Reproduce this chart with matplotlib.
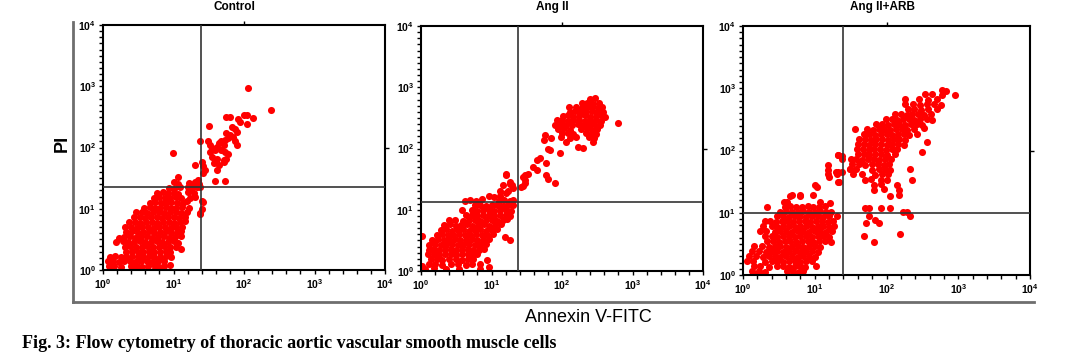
import numpy as np
import matplotlib
matplotlib.use("Agg")
import matplotlib.pyplot as plt
from matplotlib.lines import Line2D
from matplotlib.ticker import FixedLocator, NullLocator, NullFormatter, FuncFormatter

plt.rcParams['font.family'] = ['Liberation Sans', 'DejaVu Sans']
plt.rcParams['mathtext.fontset'] = 'custom'
plt.rcParams['mathtext.rm'] = 'Liberation Sans'
plt.rcParams['mathtext.bf'] = 'Liberation Sans:bold'

# events, as (log10 Annexin V-FITC, log10 PI)
control_events = [
    # lower-left (live) population
    (1.00, 1.43), (1.07, 1.40), (1.22, 1.42), (1.30, 1.44), (1.36, 1.40),
    (0.93, 1.34), (1.01, 1.33), (1.09, 1.35), (1.25, 1.33), (1.33, 1.35),
    (0.77, 1.26), (0.85, 1.27), (0.92, 1.25), (1.00, 1.26), (1.07, 1.24), (1.20, 1.27), (1.29, 1.25),
    (0.72, 1.18), (0.80, 1.19), (0.88, 1.17), (0.95, 1.18), (1.03, 1.19), (1.10, 1.17), (1.24, 1.18), (1.31, 1.20),
    (0.66, 1.10), (0.74, 1.11), (0.82, 1.09), (0.90, 1.10), (0.97, 1.11), (1.05, 1.09), (1.13, 1.10), (1.19, 1.12), (1.40, 1.12),
    (0.58, 1.02), (0.66, 1.03), (0.74, 1.01), (0.81, 1.02), (0.89, 1.03), (0.96, 1.01), (1.04, 1.02), (1.12, 1.03), (1.22, 1.01), (1.41, 1.00),
    (0.47, 0.94), (0.55, 0.95), (0.63, 0.93), (0.71, 0.94), (0.79, 0.95), (0.87, 0.93), (0.95, 0.94), (1.03, 0.95), (1.11, 0.93), (1.19, 0.94), (1.38, 0.92),
    (0.44, 0.86), (0.52, 0.87), (0.60, 0.85), (0.68, 0.86), (0.76, 0.87), (0.84, 0.85), (0.92, 0.86), (1.00, 0.87), (1.08, 0.85), (1.17, 0.86),
    (0.37, 0.78), (0.45, 0.79), (0.53, 0.77), (0.61, 0.78), (0.69, 0.79), (0.77, 0.77), (0.85, 0.78), (0.93, 0.79), (1.01, 0.77), (1.09, 0.78), (1.16, 0.80),
    (0.31, 0.71), (0.40, 0.70), (0.48, 0.69), (0.56, 0.70), (0.64, 0.71), (0.72, 0.69), (0.80, 0.70), (0.88, 0.71), (0.96, 0.69), (1.04, 0.70), (1.12, 0.71),
    (0.33, 0.62), (0.41, 0.63), (0.49, 0.61), (0.57, 0.62), (0.65, 0.63), (0.73, 0.61), (0.81, 0.62), (0.89, 0.63), (0.97, 0.61), (1.05, 0.62), (1.11, 0.64),
    (0.22, 0.53), (0.30, 0.54), (0.38, 0.55), (0.46, 0.53), (0.54, 0.54), (0.62, 0.55), (0.70, 0.53), (0.78, 0.54), (0.86, 0.55), (0.94, 0.53), (1.02, 0.54), (1.10, 0.56),
    (0.18, 0.46), (0.28, 0.47), (0.36, 0.45), (0.44, 0.46), (0.52, 0.47), (0.60, 0.45), (0.68, 0.46), (0.76, 0.47), (0.84, 0.45), (0.92, 0.46), (1.00, 0.47), (1.06, 0.44),
    (0.31, 0.38), (0.39, 0.39), (0.47, 0.37), (0.55, 0.38), (0.63, 0.39), (0.71, 0.37), (0.79, 0.38), (0.87, 0.39), (0.95, 0.37), (1.03, 0.38), (1.10, 0.35),
    (0.33, 0.30), (0.41, 0.31), (0.49, 0.29), (0.57, 0.30), (0.65, 0.31), (0.73, 0.29), (0.81, 0.30), (0.89, 0.31), (0.95, 0.29),
    (0.10, 0.22), (0.17, 0.23), (0.25, 0.21), (0.33, 0.22), (0.41, 0.23), (0.49, 0.21), (0.57, 0.22), (0.65, 0.23), (0.73, 0.21), (0.81, 0.22), (0.89, 0.23), (0.96, 0.21),
    (0.07, 0.14), (0.14, 0.15), (0.22, 0.13), (0.30, 0.14), (0.38, 0.15), (0.46, 0.13), (0.54, 0.14), (0.62, 0.15), (0.70, 0.13), (0.78, 0.14), (0.86, 0.15),
    (0.08, 0.06), (0.16, 0.07), (0.26, 0.05), (0.40, 0.06), (0.48, 0.07), (0.56, 0.05), (0.64, 0.06), (0.74, 0.07), (0.80, 0.05), (0.86, 0.06), (0.95, 0.08),
    (0.42, 0.02), (0.50, 0.01), (0.74, 0.02), (0.79, 0.01),
    # upper-right tail
    (2.05, 2.97), (2.38, 2.62), (1.74, 2.49), (1.80, 2.49), (2.00, 2.53), (2.04, 2.53), (2.13, 2.48),
    (1.92, 2.46), (1.94, 2.41), (2.04, 2.38), (1.50, 2.35), (1.83, 2.34), (1.87, 2.30), (1.90, 2.26),
    (1.75, 2.23), (1.80, 2.20), (1.85, 2.17), (1.78, 2.15), (1.73, 2.12), (1.68, 2.10), (1.87, 2.10),
    (1.90, 2.04), (1.64, 2.07), (1.71, 2.04), (1.61, 2.01), (1.52, 2.04), (1.38, 2.10), (1.49, 2.11),
    (1.54, 1.99), (1.59, 1.96), (1.68, 1.96), (1.73, 1.93), (1.78, 1.90), (1.75, 1.82), (1.71, 1.80),
    (1.61, 1.82), (1.54, 1.85), (1.52, 1.93), (1.57, 1.74), (1.64, 1.71), (1.61, 1.64), (1.71, 1.77),
    (1.40, 1.77), (1.30, 1.71), (1.42, 1.70), (1.45, 1.63), (1.73, 1.46), (1.59, 1.45), (1.35, 1.47),
    (1.31, 1.42), (1.38, 1.36), (1.21, 1.36), (1.26, 1.37), (1.42, 1.58), (0.99, 1.91), (1.07, 1.52),
    (1.42, 1.11), (1.38, 0.93),
]

ang2_events = [
    # lower-left population
    (1.21, 1.57), (1.17, 1.40), (1.26, 1.42), (1.42, 1.37), (1.12, 1.30), (1.20, 1.28),
    (0.96, 1.22), (1.04, 1.21), (1.12, 1.23),
    (0.62, 1.15), (0.70, 1.16), (0.78, 1.15), (0.86, 1.17), (1.10, 1.15), (1.18, 1.16), (1.26, 1.14), (1.31, 1.16),
    (0.76, 1.07), (0.84, 1.08), (0.92, 1.06), (1.00, 1.07), (1.08, 1.08), (1.16, 1.06), (1.24, 1.07), (1.31, 1.08),
    (0.58, 0.99), (0.72, 1.00), (0.80, 0.98), (0.88, 0.99), (0.96, 1.00), (1.04, 0.98), (1.12, 0.99), (1.20, 1.00), (1.28, 0.98),
    (0.64, 0.91), (0.72, 0.92), (0.80, 0.90), (0.88, 0.91), (0.96, 0.92), (1.04, 0.90), (1.12, 0.91), (1.20, 0.92), (1.26, 0.90),
    (0.40, 0.83), (0.48, 0.84), (0.60, 0.82), (0.68, 0.83), (0.76, 0.84), (0.84, 0.82), (0.92, 0.83), (1.00, 0.84), (1.08, 0.82), (1.16, 0.83), (1.22, 0.85),
    (0.33, 0.75), (0.41, 0.76), (0.49, 0.74), (0.57, 0.75), (0.65, 0.76), (0.73, 0.74), (0.81, 0.75), (0.89, 0.76), (0.97, 0.74), (1.05, 0.75), (1.13, 0.76),
    (0.28, 0.67), (0.36, 0.68), (0.44, 0.66), (0.52, 0.67), (0.60, 0.68), (0.68, 0.66), (0.76, 0.67), (0.84, 0.68), (0.92, 0.66), (1.00, 0.67), (1.08, 0.68),
    (0.22, 0.59), (0.30, 0.60), (0.38, 0.58), (0.46, 0.59), (0.54, 0.60), (0.62, 0.58), (0.70, 0.59), (0.78, 0.60), (0.86, 0.58), (0.94, 0.59), (1.02, 0.60), (1.19, 0.56),
    (0.16, 0.51), (0.24, 0.52), (0.32, 0.50), (0.40, 0.51), (0.48, 0.52), (0.56, 0.50), (0.64, 0.51), (0.72, 0.52), (0.80, 0.50), (0.88, 0.51), (0.96, 0.52), (1.26, 0.51),
    (0.12, 0.43), (0.20, 0.44), (0.28, 0.42), (0.36, 0.43), (0.44, 0.44), (0.52, 0.42), (0.60, 0.43), (0.68, 0.44), (0.76, 0.42), (0.84, 0.43), (0.92, 0.44),
    (0.12, 0.35), (0.18, 0.36), (0.26, 0.34), (0.34, 0.35), (0.42, 0.36), (0.50, 0.34), (0.58, 0.35), (0.66, 0.36), (0.74, 0.34), (0.82, 0.35), (0.90, 0.36),
    (0.10, 0.27), (0.18, 0.28), (0.26, 0.26), (0.34, 0.27), (0.42, 0.28), (0.50, 0.26), (0.58, 0.27), (0.66, 0.28), (0.74, 0.26), (0.80, 0.27),
    (0.14, 0.19), (0.22, 0.20), (0.30, 0.18), (0.40, 0.19), (0.50, 0.20), (0.58, 0.18), (0.66, 0.19), (0.74, 0.20), (0.93, 0.18),
    (0.12, 0.11), (0.20, 0.12), (0.30, 0.10), (0.42, 0.11), (0.52, 0.12), (0.64, 0.10), (0.72, 0.11), (0.84, 0.12), (0.97, 0.07),
    (0.05, 0.04), (0.18, 0.05), (0.36, 0.03), (0.54, 0.04), (0.83, 0.03), (0.01, 0.57), (0.01, 0.08),
    # diagonal bridge
    (1.76, 2.22), (1.74, 2.14), (1.85, 2.17), (1.80, 2.00), (1.83, 1.98), (1.97, 1.92), (1.69, 1.84),
    (1.64, 1.81), (1.59, 1.70), (1.64, 1.65), (1.78, 1.76), (1.78, 1.57), (1.80, 1.51), (1.90, 1.43),
    (1.52, 1.59), (1.47, 1.57), (1.45, 1.54), (1.47, 1.49), (1.47, 1.43), (1.45, 1.38), (1.21, 1.59),
    (1.26, 1.46), (1.29, 1.40), (1.31, 1.35), (1.24, 1.30),
    # upper-right population
    (2.40, 2.81), (2.47, 2.83),
    (2.28, 2.74), (2.36, 2.75), (2.44, 2.73), (2.52, 2.74),
    (2.10, 2.67), (2.20, 2.68), (2.28, 2.66), (2.35, 2.67), (2.43, 2.68), (2.51, 2.66), (2.57, 2.67),
    (2.11, 2.60), (2.19, 2.61), (2.26, 2.59), (2.34, 2.60), (2.42, 2.61), (2.50, 2.59), (2.58, 2.60),
    (2.01, 2.53), (2.08, 2.54), (2.16, 2.52), (2.24, 2.53), (2.32, 2.54), (2.40, 2.52), (2.48, 2.53), (2.56, 2.54), (2.61, 2.52),
    (1.93, 2.46), (2.00, 2.47), (2.08, 2.45), (2.16, 2.46), (2.24, 2.47), (2.32, 2.45), (2.40, 2.46), (2.48, 2.47), (2.56, 2.45),
    (1.90, 2.39), (1.98, 2.40), (2.06, 2.38), (2.14, 2.39), (2.22, 2.40), (2.30, 2.38), (2.38, 2.39), (2.46, 2.40), (2.54, 2.38), (2.80, 2.41),
    (1.95, 2.32), (2.03, 2.33), (2.11, 2.31), (2.27, 2.32), (2.35, 2.33), (2.43, 2.31), (2.50, 2.32),
    (2.00, 2.25), (2.08, 2.26), (2.16, 2.24), (2.34, 2.25), (2.42, 2.26), (2.48, 2.24),
    (1.98, 2.18), (2.12, 2.17), (2.20, 2.19), (2.38, 2.18), (2.46, 2.17),
    (2.06, 2.10), (2.44, 2.10), (2.23, 2.02), (2.30, 2.01),
]

ang2_arb_events = [
    # lower-left population
    (0.66, 1.27), (0.80, 1.27),
    (0.57, 1.17), (0.62, 1.18), (1.07, 1.18), (1.21, 1.16),
    (0.33, 1.10), (0.58, 1.10), (0.66, 1.11), (0.74, 1.09), (0.82, 1.10), (0.90, 1.11), (0.98, 1.09), (1.06, 1.10), (1.14, 1.11),
    (0.52, 1.02), (0.60, 1.03), (0.68, 1.01), (0.76, 1.02), (0.84, 1.03), (0.92, 1.01), (1.00, 1.02), (1.08, 1.03), (1.16, 1.01), (1.22, 1.02),
    (0.48, 0.94), (0.56, 0.95), (0.64, 0.93), (0.72, 0.94), (0.80, 0.95), (0.88, 0.93), (0.96, 0.94), (1.04, 0.95), (1.12, 0.93), (1.20, 0.94), (1.31, 0.94),
    (0.30, 0.86), (0.38, 0.87), (0.46, 0.85), (0.54, 0.86), (0.62, 0.87), (0.70, 0.85), (0.78, 0.86), (0.86, 0.87), (0.94, 0.85), (1.02, 0.86), (1.10, 0.87), (1.18, 0.85), (1.25, 0.86),
    (0.28, 0.78), (0.40, 0.79), (0.48, 0.77), (0.56, 0.78), (0.64, 0.79), (0.72, 0.77), (0.80, 0.78), (0.88, 0.79), (0.96, 0.77), (1.04, 0.78), (1.12, 0.79), (1.20, 0.77), (1.27, 0.78),
    (0.24, 0.70), (0.32, 0.71), (0.44, 0.69), (0.52, 0.70), (0.60, 0.71), (0.68, 0.69), (0.76, 0.70), (0.84, 0.71), (0.92, 0.69), (1.00, 0.70), (1.08, 0.71), (1.16, 0.69), (1.24, 0.70),
    (0.30, 0.62), (0.40, 0.63), (0.48, 0.61), (0.56, 0.62), (0.64, 0.63), (0.72, 0.61), (0.80, 0.62), (0.88, 0.63), (0.96, 0.61), (1.04, 0.62), (1.12, 0.63), (1.20, 0.61),
    (0.34, 0.54), (0.42, 0.55), (0.50, 0.53), (0.58, 0.54), (0.66, 0.55), (0.74, 0.53), (0.82, 0.54), (0.90, 0.55), (0.98, 0.53), (1.06, 0.54), (1.14, 0.55), (1.22, 0.53),
    (0.16, 0.46), (0.26, 0.47), (0.36, 0.45), (0.44, 0.46), (0.52, 0.47), (0.60, 0.45), (0.68, 0.46), (0.76, 0.47), (0.84, 0.45), (0.92, 0.46), (1.00, 0.47), (1.08, 0.45),
    (0.12, 0.38), (0.22, 0.39), (0.32, 0.37), (0.40, 0.38), (0.48, 0.39), (0.56, 0.37), (0.64, 0.38), (0.72, 0.39), (0.80, 0.37), (0.88, 0.38), (0.96, 0.39), (1.04, 0.37),
    (0.08, 0.30), (0.18, 0.31), (0.28, 0.29), (0.36, 0.30), (0.44, 0.31), (0.52, 0.29), (0.60, 0.30), (0.68, 0.31), (0.76, 0.29), (0.84, 0.30), (0.92, 0.31), (1.00, 0.29),
    (0.06, 0.22), (0.14, 0.23), (0.30, 0.21), (0.40, 0.22), (0.48, 0.23), (0.56, 0.21), (0.64, 0.22), (0.72, 0.23), (0.80, 0.21), (0.88, 0.22), (0.96, 0.23),
    (0.16, 0.14), (0.24, 0.15), (0.36, 0.13), (0.48, 0.14), (0.56, 0.15), (0.64, 0.13), (0.72, 0.14), (0.80, 0.15), (0.86, 0.13), (1.02, 0.14),
    (0.12, 0.06), (0.22, 0.07), (0.30, 0.05), (0.62, 0.06), (0.70, 0.07), (0.78, 0.05), (0.84, 0.06),
    (0.18, 0.01), (0.26, 0.02), (0.70, 0.01),
    # diagonal tail left of the gate
    (1.33, 1.93), (1.38, 1.91), (1.19, 1.77), (1.19, 1.69), (1.19, 1.63), (1.31, 1.63), (1.34, 1.50),
    (1.20, 1.57), (1.00, 1.45), (1.03, 1.42), (0.98, 1.29), (0.68, 1.29), (0.79, 1.29), (1.33, 1.66),
    # upper-right population
    (2.78, 2.97), (2.83, 2.95),
    (2.53, 2.90), (2.63, 2.91), (2.78, 2.89), (2.95, 2.89),
    (2.26, 2.82), (2.45, 2.83), (2.58, 2.81), (2.70, 2.82),
    (2.26, 2.74), (2.37, 2.75), (2.47, 2.73), (2.56, 2.74), (2.66, 2.75), (2.76, 2.73),
    (2.30, 2.66), (2.39, 2.67), (2.48, 2.65), (2.58, 2.66), (2.70, 2.67),
    (2.12, 2.58), (2.20, 2.59), (2.28, 2.57), (2.36, 2.58), (2.44, 2.59), (2.52, 2.57), (2.62, 2.58),
    (1.99, 2.50), (2.07, 2.51), (2.15, 2.49), (2.23, 2.50), (2.31, 2.51), (2.39, 2.49), (2.47, 2.50), (2.56, 2.51), (2.64, 2.49),
    (1.86, 2.42), (1.94, 2.43), (2.02, 2.41), (2.10, 2.42), (2.18, 2.43), (2.26, 2.41), (2.34, 2.42), (2.42, 2.43), (2.50, 2.41),
    (1.56, 2.34), (1.73, 2.35), (1.81, 2.33), (1.89, 2.34), (1.97, 2.35), (2.05, 2.33), (2.13, 2.34), (2.21, 2.35), (2.29, 2.33), (2.39, 2.34), (2.52, 2.36),
    (1.68, 2.26), (1.76, 2.27), (1.84, 2.25), (1.92, 2.26), (2.00, 2.27), (2.08, 2.25), (2.16, 2.26), (2.24, 2.27), (2.32, 2.25), (2.42, 2.26),
    (1.62, 2.18), (1.70, 2.19), (1.78, 2.17), (1.86, 2.18), (1.94, 2.19), (2.02, 2.17), (2.10, 2.18), (2.18, 2.19), (2.26, 2.17), (2.56, 2.14),
    (1.60, 2.10), (1.68, 2.11), (1.76, 2.09), (1.84, 2.10), (1.92, 2.11), (2.00, 2.09), (2.08, 2.10), (2.16, 2.11), (2.24, 2.09),
    (1.59, 2.02), (1.67, 2.03), (1.75, 2.01), (1.83, 2.02), (1.91, 2.03), (1.99, 2.01), (2.07, 2.02), (2.15, 2.03), (2.50, 1.98),
    (1.60, 1.94), (1.68, 1.95), (1.76, 1.93), (1.84, 1.94), (1.92, 1.95), (2.00, 1.93), (2.12, 1.94),
    (1.50, 1.86), (1.58, 1.87), (1.66, 1.85), (1.74, 1.86), (1.82, 1.87), (1.90, 1.85), (1.98, 1.86), (2.06, 1.87),
    (1.52, 1.78), (1.62, 1.79), (1.70, 1.77), (1.80, 1.78), (1.88, 1.79), (1.96, 1.77), (2.04, 1.78),
    (1.49, 1.70), (1.58, 1.71), (1.80, 1.69), (1.90, 1.70), (1.98, 1.71), (2.05, 1.69), (2.33, 1.71),
    (1.54, 1.62), (1.66, 1.63), (1.84, 1.61), (1.94, 1.62), (2.02, 1.63),
    (1.70, 1.53), (1.78, 1.54), (1.92, 1.52), (2.00, 1.53), (2.35, 1.53),
    (1.82, 1.45), (1.93, 1.46), (2.14, 1.44), (1.83, 1.37), (1.96, 1.38), (2.18, 1.36),
    (2.05, 1.27), (2.17, 1.28),
    (1.33, 1.93), (1.38, 1.87), (1.30, 1.66), (1.38, 1.66), (1.33, 1.50), (1.49, 1.71),
    # right of the gate, below the PI cut
    (1.70, 1.07), (1.75, 1.07), (1.93, 1.07), (2.05, 1.07), (2.23, 1.02), (2.28, 1.02), (2.33, 0.94),
    (1.75, 0.94), (1.72, 0.83), (1.84, 0.88), (1.89, 0.83), (1.68, 0.62), (1.82, 0.53), (2.19, 0.66),
]

panel_titles = ["Control", "Ang II", "Ang II+ARB"]
panel_events = [control_events, ang2_events, ang2_arb_events]
# quadrant gates (Annexin V, PI)
gate_annexin = [24.5, 23.5, 24.7]
gate_pi = [22.5, 13.4, 10.0]

W, H = 1081, 354
fig = plt.figure(figsize=(W / 100, H / 100), dpi=100)

# axes boxes in pixels: left, top, right, bottom
boxes = [(103, 25, 385, 270), (421, 26, 703, 271), (743, 26, 1030, 275)]
title_x = [234, 552, 882]


def decade_label(v, pos):
    return r'$\mathbf{10^{%d}}$' % int(round(np.log10(v)))


for i, (l, t, r, b) in enumerate(boxes):
    ax = fig.add_axes([l / W, 1 - b / H, (r - l) / W, (b - t) / H])
    ev = np.array(panel_events[i])
    ax.scatter(10 ** ev[:, 0], 10 ** ev[:, 1], s=26, marker='o', color='#ff0000',
               linewidths=0, zorder=2)
    ax.set_xscale('log')
    ax.set_yscale('log')
    ax.set_xlim(1, 1e4)
    ax.set_ylim(1, 1e4)

    ax.axvline(gate_annexin[i], color='#333333', lw=1.2, zorder=3)
    ax.axhline(gate_pi[i], color='#333333', lw=1.2, zorder=3)

    decades = [1, 10, 100, 1000, 10000]
    ax.xaxis.set_major_locator(FixedLocator(decades))
    ax.yaxis.set_major_locator(FixedLocator(decades))
    ax.xaxis.set_minor_locator(FixedLocator(10 ** (np.arange(0, 21) / 5.0)))
    ax.yaxis.set_minor_locator(FixedLocator(10 ** (np.arange(0, 41) / 10.0)))
    ax.xaxis.set_major_formatter(FuncFormatter(decade_label))
    ax.yaxis.set_major_formatter(FuncFormatter(decade_label))
    ax.xaxis.set_minor_formatter(NullFormatter())
    ax.yaxis.set_minor_formatter(NullFormatter())
    ax.tick_params(which='both', direction='out', length=3, width=1, colors='black',
                   labelsize=7.5, pad=2)

    for sp in ax.spines.values():
        sp.set_linewidth(1.5)

    # single marks at 10^2 on the top and right frame
    top = ax.secondary_xaxis('top')
    top.set_xticks([100])
    top.xaxis.set_major_formatter(NullFormatter())
    top.xaxis.set_minor_locator(NullLocator())
    top.tick_params(length=3, width=1)
    top.spines['top'].set_visible(False)
    right = ax.secondary_yaxis('right')
    right.set_yticks([100])
    right.yaxis.set_major_formatter(NullFormatter())
    right.yaxis.set_minor_locator(NullLocator())
    right.tick_params(length=3, width=1)
    right.spines['right'].set_visible(False)

    fig.text(title_x[i] / W, 1 - 7 / H, panel_titles[i], ha='center', va='center',
             fontsize=8.5, fontweight='bold')

# outer frame
fig.add_artist(Line2D([73 / W, 73 / W], [1 - 22 / H, 1 - 302 / H], color='#6e6e6e', lw=2))
fig.add_artist(Line2D([73 / W, 1034 / W], [1 - 302 / H, 1 - 302 / H], color='#6e6e6e', lw=2))

fig.text(62 / W, 1 - 143 / H, 'PI', rotation=90, ha='center', va='center',
         fontsize=13, fontweight='bold')
fig.text(588 / W, 1 - 318 / H, 'Annexin V-FITC', ha='center', va='center',
         fontsize=13, family=['Liberation Sans Narrow', 'Liberation Sans'])
fig.text(22 / W, 1 - 343 / H, 'Fig. 3: Flow cytometry of thoracic aortic vascular smooth muscle cells',
         ha='left', va='center', fontsize=13, fontweight='bold',
         family=['Liberation Serif', 'DejaVu Serif'])

fig.savefig('out.png', dpi=100)
